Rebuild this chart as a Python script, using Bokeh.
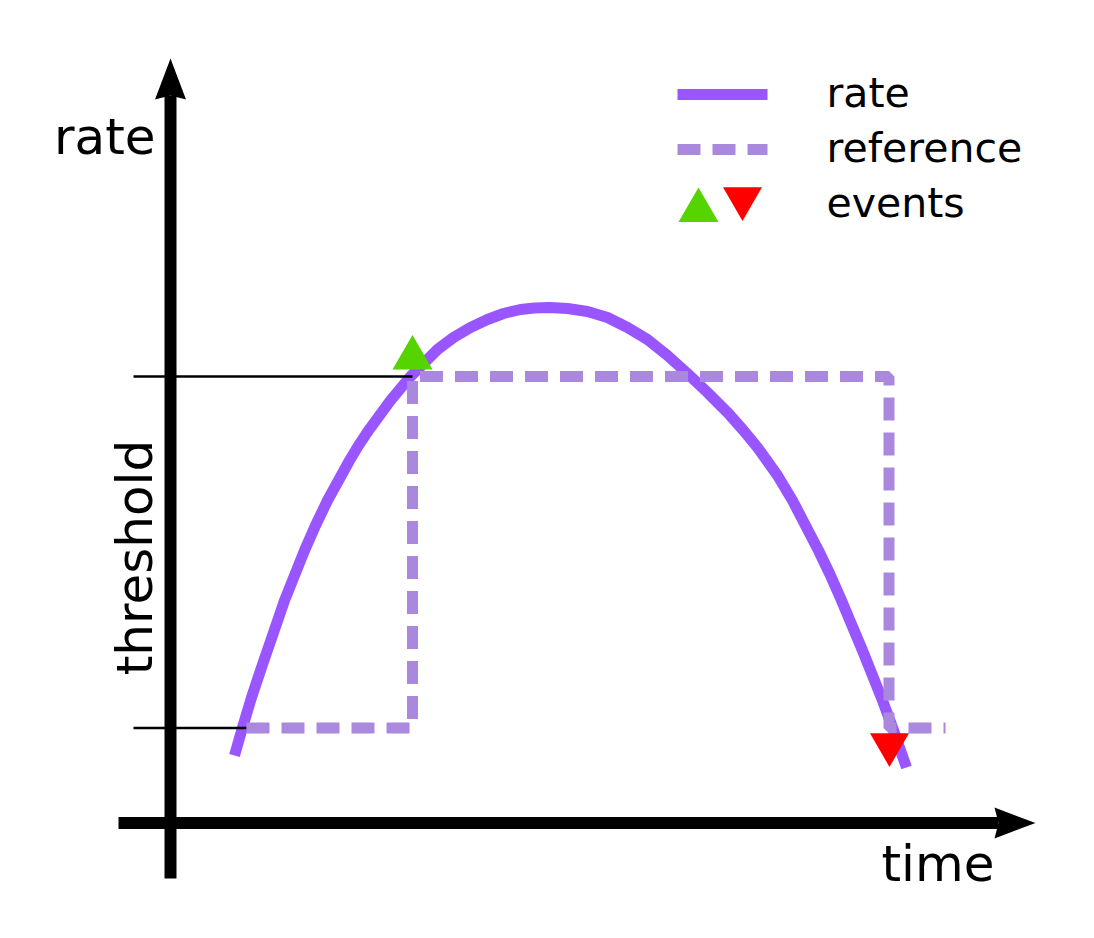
from bokeh.plotting import figure
from bokeh.models import Range1d
from bokeh.core.properties import value
from bokeh.embed import file_html
from bokeh.resources import INLINE

# ---- data (time units: 1 = 100 px, rate units: 1 = 100 px) ----
rate_time = [0.64, 0.72, 0.81, 0.91, 1.02, 1.14, 1.24, 1.34, 1.45, 1.57, 1.68, 1.79, 1.88, 1.98,
             2.09, 2.20, 2.30, 2.40, 2.54, 2.67, 2.83, 3.00, 3.17, 3.33, 3.50, 3.64, 3.79,
             3.97, 4.17, 4.37, 4.57, 4.77, 4.97, 5.17, 5.37, 5.58, 5.73, 5.87, 6.07, 6.22,
             6.35, 6.48, 6.60, 6.71, 6.92, 7.12, 7.22, 7.36]
rate_vals = [0.675, 0.955, 1.255, 1.555, 1.875, 2.225, 2.475, 2.725, 2.975, 3.225, 3.425, 3.625,
             3.775, 3.925, 4.075, 4.225, 4.345, 4.465, 4.605, 4.735, 4.855, 4.955, 5.035, 5.095,
             5.135, 5.150, 5.155, 5.145, 5.115, 5.055, 4.955, 4.835, 4.675, 4.495, 4.305, 4.095,
             3.925, 3.755, 3.475, 3.225, 2.975, 2.725, 2.475, 2.225, 1.725, 1.225, 0.955, 0.555]

ref_time = [0.76, 2.42, 2.42, 7.185, 7.185, 7.75]
ref_vals = [0.95, 0.95, 4.465, 4.465, 0.95, 0.95]

thresholds = [0.95, 4.465]
threshold_start = -0.37
threshold_ends = [0.76, 2.42]

up_event_time = [2.42]
up_event_val = [4.65]
down_event_time = [7.19]
down_event_val = [0.785]

axis_labels = ["rate", "time", "threshold"]
legend_labels = ["rate", "reference", "events"]

# axis geometry
x_axis_start, x_axis_tip = -0.52, 8.65
y_axis_start, y_axis_tip = -0.555, 7.645
HEAD_LEN, HEAD_HALF, NOTCH = 0.41, 0.155, 0.04
TXT_SHIFT = 0.16  # baseline correction for svg text

RATE_COLOR = "#9955FF"
REF_COLOR = "#AA88DD"
UP_COLOR = "#55D400"
DOWN_COLOR = "#FF0000"
FONT = value("DejaVu Sans")

p = figure(width=1078, height=922, output_backend="svg", toolbar_location=None,
           x_range=Range1d(-1.70, 9.08), y_range=Range1d(-0.995, 8.225),
           x_axis_type=None, y_axis_type=None, min_border=0)
p.grid.visible = False
p.outline_line_color = None
p.background_fill_color = "white"
p.border_fill_color = "white"

# axes shafts
p.line([x_axis_start, x_axis_tip - HEAD_LEN + NOTCH], [0, 0], line_color="black", line_width=12)
p.line([0, 0], [y_axis_start, y_axis_tip - HEAD_LEN + NOTCH], line_color="black", line_width=12)
# arrow heads
p.patch([x_axis_tip, x_axis_tip - HEAD_LEN, x_axis_tip - HEAD_LEN + NOTCH, x_axis_tip - HEAD_LEN],
        [0, HEAD_HALF, 0, -HEAD_HALF], fill_color="black", line_color=None)
p.patch([0, HEAD_HALF, 0, -HEAD_HALF],
        [y_axis_tip, y_axis_tip - HEAD_LEN, y_axis_tip - HEAD_LEN + NOTCH, y_axis_tip - HEAD_LEN],
        fill_color="black", line_color=None)

# rate curve
p.line(rate_time, rate_vals, line_color=RATE_COLOR, line_width=11, line_join="round")

# threshold markers
for th, end in zip(thresholds, threshold_ends):
    p.line([threshold_start, end], [th, th], line_color="black", line_width=2.7)

# reference step
p.line(ref_time, ref_vals, line_color=REF_COLOR, line_width=11, line_dash="23 12")

# events
p.scatter(up_event_time, up_event_val, marker="triangle", size=40, fill_color=UP_COLOR, line_color=None)
p.scatter(down_event_time, down_event_val, marker="inverted_triangle", size=39, fill_color=DOWN_COLOR, line_color=None)

# axis labels
p.text([-0.15], [6.705 + TXT_SHIFT], text=[axis_labels[0]], text_font=FONT, text_font_size="50px",
       text_align="right", text_baseline="alphabetic", text_color="black")
p.text([7.11], [-0.565 + TXT_SHIFT], text=[axis_labels[1]], text_font=FONT, text_font_size="50px",
       text_align="left", text_baseline="alphabetic", text_color="black")
p.text([-0.2 - TXT_SHIFT], [2.655], text=[axis_labels[2]], text_font=FONT, text_font_size="50px",
       text_align="center", text_baseline="alphabetic", angle=1.5707963, text_color="black")

# legend
leg_x0, leg_x1 = 5.07, 5.97
p.line([leg_x0, leg_x1], [7.285, 7.285], line_color=RATE_COLOR, line_width=11)
p.line([leg_x0, leg_x1], [6.735, 6.735], line_color=REF_COLOR, line_width=11, line_dash="23 12")
p.scatter([5.28], [6.125], marker="triangle", size=40, fill_color=UP_COLOR, line_color=None)
p.scatter([5.72], [6.245], marker="inverted_triangle", size=39, fill_color=DOWN_COLOR, line_color=None)
p.text([6.56, 6.56, 6.56], [7.145 + TXT_SHIFT, 6.595 + TXT_SHIFT, 6.045 + TXT_SHIFT], text=legend_labels,
       text_font=FONT, text_font_size="41px", text_align="left", text_baseline="alphabetic",
       text_color="black")

open("out.html", "w").write(file_html(p, INLINE))
